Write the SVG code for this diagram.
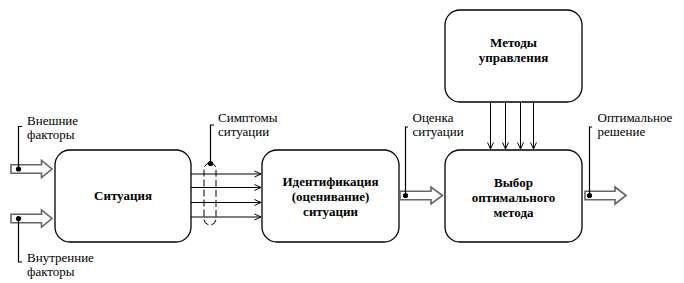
<svg xmlns="http://www.w3.org/2000/svg" width="684" height="283" viewBox="0 0 684 283">
<defs>
<style>
.box{fill:#fff;stroke:#000;stroke-width:1.3}
.bt{font-family:'Liberation Serif','DejaVu Serif',serif;font-size:13px;font-weight:bold;text-anchor:middle;fill:#000}
.lt{font-family:'Liberation Serif','DejaVu Serif',serif;font-size:13px;fill:#000}
.ln{fill:none;stroke:#000;stroke-width:1}
.ld{fill:none;stroke:#000;stroke-width:1.2}
.blk{fill:#fff;stroke:#666;stroke-width:1.6;stroke-linejoin:miter}
.dash{fill:none;stroke:#000;stroke-width:1;stroke-dasharray:7 3}
</style>
<marker id="ah" viewBox="0 0 8 8" refX="7.5" refY="4" markerWidth="8" markerHeight="8" markerUnits="userSpaceOnUse" orient="auto">
<path d="M1,1 L7.5,4 L1,7" fill="none" stroke="#000" stroke-width="1"/>
</marker>
</defs>
<rect width="684" height="283" fill="#fff"/>

<g id="situation">
<rect class="box" x="55" y="150" width="136" height="92" rx="15"/>
<text class="bt" font-family="Liberation Serif, serif" x="123" y="200">Ситуация</text>
</g>

<g id="identification">
<rect class="box" x="262" y="150" width="137" height="92" rx="15"/>
<text class="bt" font-family="Liberation Serif, serif" x="330.5" y="186">Идентификация</text>
<text class="bt" font-family="Liberation Serif, serif" x="330.5" y="201">(оценивание)</text>
<text class="bt" font-family="Liberation Serif, serif" x="330.5" y="216">ситуации</text>
</g>

<g id="methods">
<rect class="box" x="445" y="10" width="137" height="92" rx="15"/>
<text class="bt" font-family="Liberation Serif, serif" x="513.5" y="47">Методы</text>
<text class="bt" font-family="Liberation Serif, serif" x="513.5" y="62">управления</text>
</g>

<g id="choice">
<rect class="box" x="445" y="150" width="137" height="92" rx="15"/>
<text class="bt" font-family="Liberation Serif, serif" x="513.5" y="187">Выбор</text>
<text class="bt" font-family="Liberation Serif, serif" x="513.5" y="202">оптимального</text>
<text class="bt" font-family="Liberation Serif, serif" x="513.5" y="217">метода</text>
</g>

<g id="connectors">
<line class="ln" x1="191" y1="174" x2="261" y2="174" marker-end="url(#ah)"/>
<line class="ln" x1="191" y1="187.5" x2="261" y2="187.5" marker-end="url(#ah)"/>
<line class="ln" x1="191" y1="202.5" x2="261" y2="202.5" marker-end="url(#ah)"/>
<line class="ln" x1="191" y1="217" x2="261" y2="217" marker-end="url(#ah)"/>
<line class="ln" x1="490.5" y1="102" x2="490.5" y2="149" marker-end="url(#ah)"/>
<line class="ln" x1="505.5" y1="102" x2="505.5" y2="149" marker-end="url(#ah)"/>
<line class="ln" x1="520.5" y1="102" x2="520.5" y2="149" marker-end="url(#ah)"/>
<line class="ln" x1="533.5" y1="102" x2="533.5" y2="149" marker-end="url(#ah)"/>
<polygon class="blk" points="11,164.7 41.5,164.7 41.5,160.5 52,169 41.5,177.5 41.5,173.3 11,173.3"/>
<polygon class="blk" points="11,214.2 41.5,214.2 41.5,210 52,218.5 41.5,227 41.5,222.8 11,222.8"/>
<polygon class="blk" points="400,191.2 431,191.2 431,187 442.5,195.5 431,204 431,199.8 400,199.8"/>
<polygon class="blk" points="585,191.2 615,191.2 615,187 626,195.5 615,204 615,199.8 585,199.8"/>
<rect class="dash" x="204" y="163" width="12" height="62" rx="6"/>
<path class="ld" d="M22,126.5 H18.5 V169"/>
<path class="ld" d="M22,262 H18.5 V218.5"/>
<path class="ld" d="M214,125 H210.5 V163.5"/>
<path class="ld" d="M408,127 H405.5 V195.5"/>
<path class="ld" d="M592,127 H589.5 V195.5"/>
<circle cx="18.5" cy="169" r="2.6"/>
<circle cx="18.5" cy="218.5" r="2.6"/>
<circle cx="210.5" cy="163.5" r="2.6"/>
<circle cx="405.5" cy="195.5" r="2.6"/>
<circle cx="589.5" cy="195.5" r="2.6"/>
</g>

<g id="labels">
<text class="lt" font-family="Liberation Serif, serif" x="27" y="125">Внешние</text>
<text class="lt" font-family="Liberation Serif, serif" x="27" y="139">факторы</text>
<text class="lt" font-family="Liberation Serif, serif" x="27" y="262">Внутренние</text>
<text class="lt" font-family="Liberation Serif, serif" x="27" y="276">факторы</text>
<text class="lt" font-family="Liberation Serif, serif" x="218" y="122">Симптомы</text>
<text class="lt" font-family="Liberation Serif, serif" x="218" y="136">ситуации</text>
<text class="lt" font-family="Liberation Serif, serif" x="412.5" y="122">Оценка</text>
<text class="lt" font-family="Liberation Serif, serif" x="412.5" y="136">ситуации</text>
<text class="lt" font-family="Liberation Serif, serif" x="597.5" y="122">Оптимальное</text>
<text class="lt" font-family="Liberation Serif, serif" x="597.5" y="136">решение</text>
</g>
</svg>
